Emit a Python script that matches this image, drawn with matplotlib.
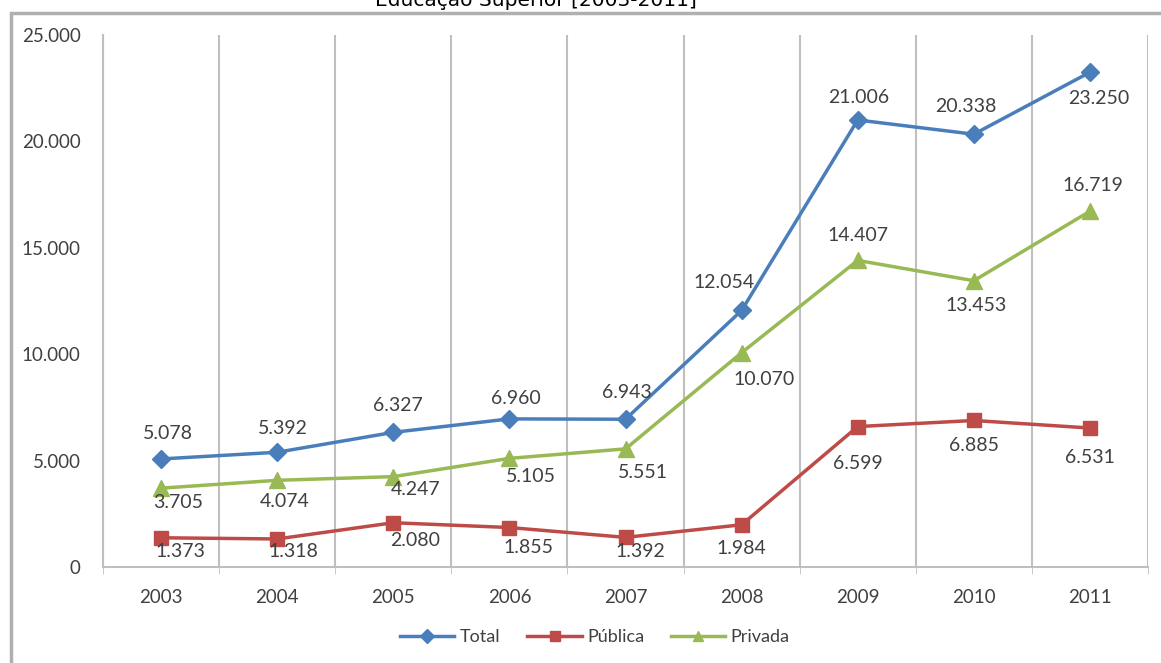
import matplotlib
matplotlib.use("Agg")
import matplotlib.pyplot as plt
from matplotlib.patches import Rectangle

years = ["2003", "2004", "2005", "2006", "2007", "2008", "2009", "2010", "2011"]
total = [5078, 5392, 6327, 6960, 6943, 12054, 21006, 20338, 23250]
publica = [1373, 1318, 2080, 1855, 1392, 1984, 6599, 6885, 6531]
privada = [3705, 4074, 4247, 5105, 5551, 10070, 14407, 13453, 16719]
series_names = ["Total", "Pública", "Privada"]
title = "Educação Superior [2003-2011]"

# label offsets in pixels (dx, dy up)
off_total = [(7, 25), (6, 24), (5, 27), (6, 20), (1, 27), (-18, 28), (1, 22), (-8, 28), (9, -26)]
off_pub = [(19, -14), (16, -13), (22, -18), (19, -20), (15, -14), (0, -24), (0, -37), (0, -25), (0, -29)]
off_priv = [(17, -14), (7, -21), (22, -13), (22, -18), (17, -24), (22, -27), (0, 25), (2, -25), (3, 26)]

def fmt(v):
    return f"{v:,}".replace(",", ".")

plt.rcParams['font.family'] = ['Lato', 'DejaVu Sans']

fig = plt.figure(figsize=(11.61, 6.63), dpi=100)
ax = fig.add_axes([103/1161, 1 - 567/663, (1148-103)/1161, (567-35)/663])

# outer chart frame
fig.patches.append(Rectangle((11/1161, -0.05), 1.2, 1 - 13/663 + 0.05, transform=fig.transFigure,
                             fill=False, edgecolor='#b0b0b0', linewidth=2.5, zorder=0))
fig.text(536/1161, 1 - 6/663, title, ha='center', va='baseline', fontsize=14.5,
         family='DejaVu Sans', color='#000000')

x = list(range(len(years)))
ax.plot(x, total, color='#4A7EBB', lw=2.5, marker='D', ms=9, label=series_names[0], zorder=5)
ax.plot(x, publica, color='#BE4B48', lw=2.5, marker='s', ms=10, label=series_names[1], zorder=5)
ax.plot(x, privada, color='#98B954', lw=2.5, marker='^', ms=11, label=series_names[2], zorder=5)

for vals, offs in ((total, off_total), (publica, off_pub), (privada, off_priv)):
    for xi, v, (dx, dy) in zip(x, vals, offs):
        ax.annotate(fmt(v), (xi, v), xytext=(dx, dy), textcoords='offset pixels',
                    ha='center', va='center', fontsize=14, color='#404040', zorder=6)

ax.set_xlim(-0.5, len(years) - 0.5)
ax.set_ylim(0, 25000)
ax.set_yticks([0, 5000, 10000, 15000, 20000, 25000])
ax.set_yticklabels([fmt(v) for v in [0, 5000, 10000, 15000, 20000, 25000]])
ax.set_xticks(x)
ax.set_xticklabels(years)
ax.set_xticks([i - 0.5 for i in range(len(years) + 1)], minor=True)
ax.grid(True, which='minor', axis='x', color='#bfbfbf', lw=1.5)
ax.grid(False, which='major')
ax.tick_params(axis='both', which='major', length=0, labelsize=13.5, labelcolor='#404040')
ax.tick_params(axis='y', pad=16)
ax.tick_params(axis='x', pad=16)
ax.tick_params(axis='x', which='minor', length=5, color='#bfbfbf')
for s in ('top', 'right'):
    ax.spines[s].set_visible(False)
for s in ('left', 'bottom'):
    ax.spines[s].set_color('#bfbfbf')
    ax.spines[s].set_linewidth(1.5)

leg = fig.legend(loc='center', bbox_to_anchor=(595/1161, 1 - 637/663), ncol=3, frameon=False,
                 fontsize=13, handlelength=3, columnspacing=1.5, handletextpad=0.3)
for t in leg.get_texts():
    t.set_color('#404040')
for h in leg.legend_handles:
    h.set_markersize(7)

fig.savefig("out.png", dpi=100)
